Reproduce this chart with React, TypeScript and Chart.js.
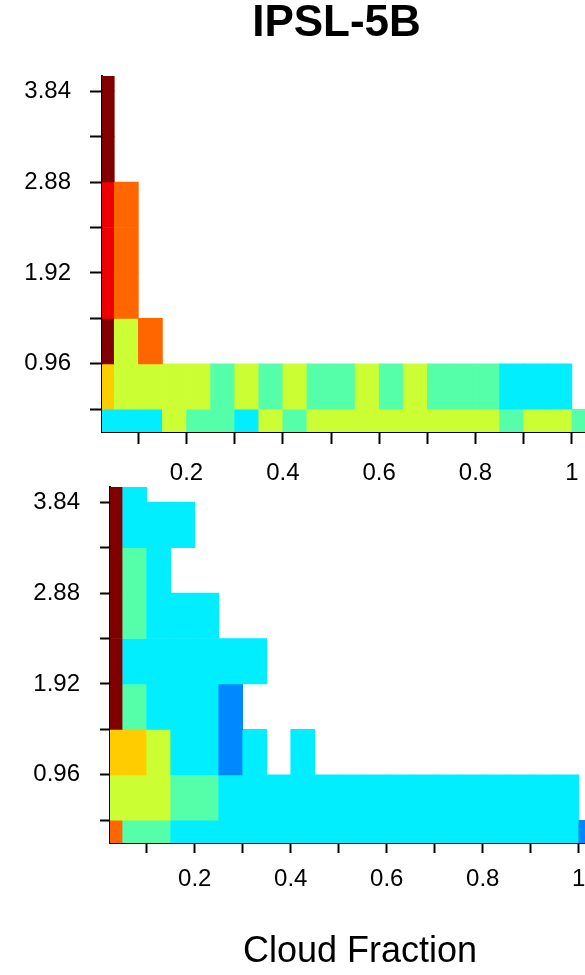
import React, { useEffect, useRef } from 'react';
import { Chart, registerables } from 'chart.js';

Chart.register(...registerables);

const FONT = "'Liberation Sans', Arial, Helvetica, sans-serif";

const chartTitle = 'IPSL-5B';
const xAxisTitle = 'Cloud Fraction';

// x bins (cloud fraction), width 0.05
const xBinCenters = [
  0.025, 0.075, 0.125, 0.175, 0.225, 0.275, 0.325, 0.375, 0.425, 0.475,
  0.525, 0.575, 0.625, 0.675, 0.725, 0.775, 0.825, 0.875, 0.925, 0.975, 1.025,
];
// y bin edges, width 0.48
const yBinEdges = [0, 0.48, 0.96, 1.44, 1.92, 2.4, 2.88, 3.36, 3.84, 4.32];

const xTickValues = [0.1, 0.2, 0.3, 0.4, 0.5, 0.6, 0.7, 0.8, 0.9, 1.0];
const xTickLabels = ['', '0.2', '', '0.4', '', '0.6', '', '0.8', '', '1'];
const yTickValues = [0.48, 0.96, 1.44, 1.92, 2.4, 2.88, 3.36, 3.84];
const yTickLabels = ['', '0.96', '', '1.92', '', '2.88', '', '3.84'];

// frequency class colours (0 = empty cell)
const levelColors = [
  'rgba(0,0,0,0)',
  '#0088ff',
  '#00eeff',
  '#55ffaa',
  '#ccff33',
  '#ffcc00',
  '#ff6600',
  '#ee0000',
  '#800000',
];

// frequency class per cell; rows from the lowest y bin upward, columns follow xBinCenters
const topLevels = [
  [2, 2, 2, 4, 3, 3, 2, 4, 3, 4, 4, 4, 4, 4, 4, 4, 4, 3, 4, 4, 3],
  [5, 4, 4, 4, 4, 3, 4, 3, 4, 3, 3, 4, 3, 4, 3, 3, 3, 2, 2, 2, 0],
  [8, 4, 6, 0, 0, 0, 0, 0, 0, 0, 0, 0, 0, 0, 0, 0, 0, 0, 0, 0, 0],
  [7, 6, 0, 0, 0, 0, 0, 0, 0, 0, 0, 0, 0, 0, 0, 0, 0, 0, 0, 0, 0],
  [7, 6, 0, 0, 0, 0, 0, 0, 0, 0, 0, 0, 0, 0, 0, 0, 0, 0, 0, 0, 0],
  [7, 6, 0, 0, 0, 0, 0, 0, 0, 0, 0, 0, 0, 0, 0, 0, 0, 0, 0, 0, 0],
  [8, 0, 0, 0, 0, 0, 0, 0, 0, 0, 0, 0, 0, 0, 0, 0, 0, 0, 0, 0, 0],
  [8, 0, 0, 0, 0, 0, 0, 0, 0, 0, 0, 0, 0, 0, 0, 0, 0, 0, 0, 0, 0],
  [8, 0, 0, 0, 0, 0, 0, 0, 0, 0, 0, 0, 0, 0, 0, 0, 0, 0, 0, 0, 0],
];

const bottomLevels = [
  [6, 3, 3, 2, 2, 2, 2, 2, 2, 2, 2, 2, 2, 2, 2, 2, 2, 2, 2, 2, 1],
  [4, 4, 4, 3, 3, 2, 2, 2, 2, 2, 2, 2, 2, 2, 2, 2, 2, 2, 2, 2, 0],
  [5, 5, 4, 2, 2, 1, 2, 0, 2, 0, 0, 0, 0, 0, 0, 0, 0, 0, 0, 0, 0],
  [8, 3, 2, 2, 2, 1, 0, 0, 0, 0, 0, 0, 0, 0, 0, 0, 0, 0, 0, 0, 0],
  [8, 2, 2, 2, 2, 2, 2, 0, 0, 0, 0, 0, 0, 0, 0, 0, 0, 0, 0, 0, 0],
  [8, 3, 2, 2, 2, 0, 0, 0, 0, 0, 0, 0, 0, 0, 0, 0, 0, 0, 0, 0, 0],
  [8, 3, 2, 0, 0, 0, 0, 0, 0, 0, 0, 0, 0, 0, 0, 0, 0, 0, 0, 0, 0],
  [8, 2, 2, 2, 0, 0, 0, 0, 0, 0, 0, 0, 0, 0, 0, 0, 0, 0, 0, 0, 0],
  [8, 2, 0, 0, 0, 0, 0, 0, 0, 0, 0, 0, 0, 0, 0, 0, 0, 0, 0, 0, 0],
];

type Cell = { x: number; y: [number, number]; level: number };

function buildCells(levels: number[][]): Cell[] {
  const cells: Cell[] = [];
  levels.forEach((row, r) => {
    row.forEach((lv, c) => {
      if (lv > 0) {
        cells.push({ x: xBinCenters[c], y: [yBinEdges[r], yBinEdges[r + 1]], level: lv });
      }
    });
  });
  return cells;
}

type PanelProps = {
  levels: number[][];
  width: number;
  height: number;
  yAxisWidth: number;
  xAxisHeight: number;
  padTop: number;
  xMin: number;
  xMax: number;
  tickLen: number;
  xLabelPad: number;
  yLabelPad: number;
  showTitle: boolean;
  showXTitle: boolean;
};

function Panel(p: PanelProps) {
  const ref = useRef<HTMLCanvasElement | null>(null);
  useEffect(() => {
    if (!ref.current) return;
    const axisGrid = {
      display: true,
      drawOnChartArea: false,
      drawTicks: true,
      tickLength: p.tickLen,
      tickWidth: 2,
      tickColor: '#000',
      color: '#000',
      offset: false,
    };
    const chart = new Chart(ref.current, {
      type: 'bar',
      data: {
        datasets: [
          {
            data: buildCells(p.levels) as any,
            backgroundColor: (ctx: any) => levelColors[(ctx.raw && ctx.raw.level) || 0],
            borderWidth: 0,
            barPercentage: 1,
            categoryPercentage: 1,
          },
        ],
      },
      options: {
        responsive: false,
        animation: false,
        devicePixelRatio: 1,
        layout: { padding: { top: p.padTop, left: 0, right: 0, bottom: 0 } },
        plugins: {
          legend: { display: false },
          tooltip: { enabled: false },
          title: {
            display: p.showTitle,
            text: chartTitle,
            color: '#000',
            font: { family: FONT, size: 44, weight: 'bold', lineHeight: 1.1 },
            padding: { top: 0, bottom: 27.6 },
          },
        },
        scales: {
          x: {
            type: 'linear',
            min: p.xMin,
            max: p.xMax,
            offset: false,
            grid: axisGrid as any,
            border: { display: true, color: '#000', width: 2 },
            afterBuildTicks: (s: any) => {
              s.ticks = xTickValues.map((v) => ({ value: v }));
            },
            afterFit: (s: any) => {
              s.height = p.xAxisHeight;
            },
            ticks: {
              autoSkip: false,
              maxRotation: 0,
              minRotation: 0,
              padding: p.xLabelPad,
              color: '#000',
              font: { family: FONT, size: 24, lineHeight: 1.2 },
              callback: (_v: any, i: number) => xTickLabels[i],
            },
            title: {
              display: p.showXTitle,
              text: xAxisTitle,
              color: '#000',
              font: { family: FONT, size: 36, lineHeight: 1.2 },
              padding: { top: 0, bottom: 1.5 },
            },
          },
          y: {
            type: 'linear',
            min: 0.24,
            max: 4.0,
            grid: axisGrid as any,
            border: { display: true, color: '#000', width: 2 },
            afterBuildTicks: (s: any) => {
              s.ticks = yTickValues.map((v) => ({ value: v }));
            },
            afterFit: (s: any) => {
              s.width = p.yAxisWidth;
            },
            ticks: {
              autoSkip: false,
              padding: p.yLabelPad,
              color: '#000',
              font: { family: FONT, size: 24, lineHeight: 1.2 },
              callback: (_v: any, i: number) => yTickLabels[i],
            },
          },
        },
      } as any,
    });
    return () => chart.destroy();
  }, []);
  return (
    <canvas
      ref={ref}
      width={p.width}
      height={p.height}
      style={{ position: 'absolute', left: 0, top: 0, width: p.width, height: p.height }}
    />
  );
}

export default function App() {
  return (
    <div
      style={{
        position: 'fixed',
        left: 0,
        top: 0,
        width: 585,
        height: 975,
        overflow: 'hidden',
        background: '#fff',
      }}
    >
      <Panel
        levels={topLevels}
        width={673}
        height={500}
        yAxisWidth={102}
        xAxisHeight={68}
        padTop={0}
        xMin={0.0245}
        xMax={1.21}
        tickLen={12}
        xLabelPad={15}
        yLabelPad={19}
        showTitle={true}
        showXTitle={false}
      />
      <Panel
        levels={bottomLevels}
        width={610}
        height={975}
        yAxisWidth={110}
        xAxisHeight={132}
        padTop={487}
        xMin={0.0235}
        xMax={1.065}
        tickLen={10}
        xLabelPad={12}
        yLabelPad={20}
        showTitle={false}
        showXTitle={true}
      />
    </div>
  );
}
